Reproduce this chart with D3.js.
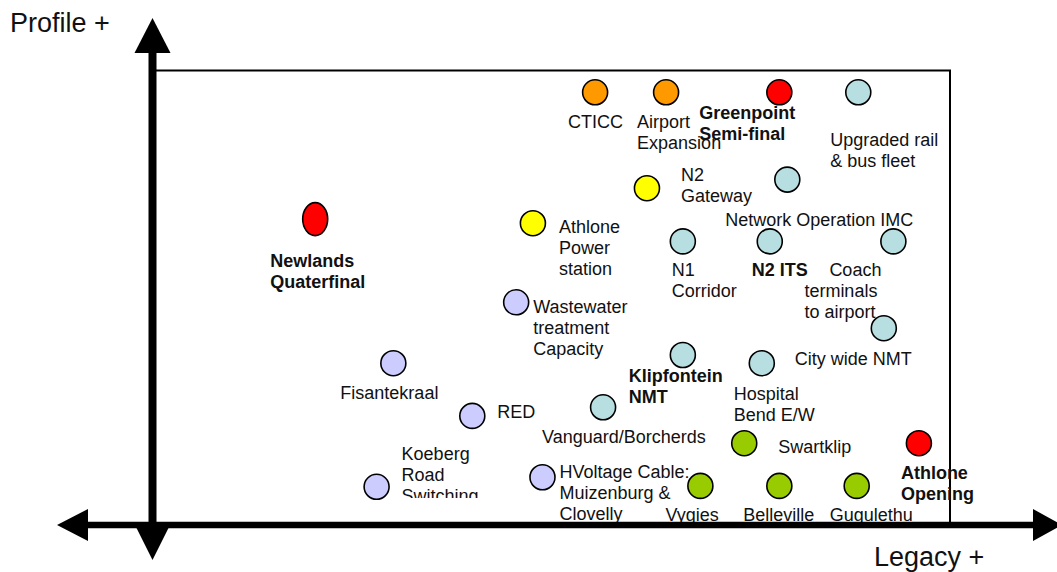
<!DOCTYPE html>
<html>
<head>
<meta charset="utf-8">
<script src="https://cdn.jsdelivr.net/npm/d3@7"></script>
<style>
  body { margin: 0; background: #fff; }
  svg { display: block; font-family: "Liberation Sans", Arial, sans-serif; }
</style>
</head>
<body>
<svg id="chart" width="1057" height="572"></svg>
<script>
// projects: legacy (x) and profile (y) on a 0..10 scale
const names = ['CTICC', 'Airport Expansion', 'Greenpoint Semi-final', 'Upgraded rail & bus fleet',
  'N2 Gateway', 'Network Operation IMC', 'Athlone Power station', 'N1 Corridor', 'N2 ITS',
  'Coach terminals to airport', 'Newlands Quaterfinal', 'Wastewater treatment Capacity',
  'City wide NMT', 'Klipfontein NMT', 'Hospital Bend E/W', 'Fisantekraal', 'RED',
  'Vanguard/Borcherds', 'Koeberg Road Switching', 'HVoltage Cable: Muizenburg & Clovelly',
  'Swartklip', 'Athlone Opening', 'Vygies', 'Belleville', 'Gugulethu'];
const legacy = [5.55, 6.44, 7.86, 8.85, 6.20, 7.96, 4.77, 6.65, 7.74, 9.29, 2.04, 4.56,
  9.17, 6.65, 7.64, 3.02, 4.01, 5.65, 2.81, 4.89, 7.42, 9.61, 6.87, 7.86, 8.83];
const profile = [9.52, 9.52, 9.52, 9.52, 7.41, 7.60, 6.64, 6.24, 6.24, 6.24, 6.73, 4.90,
  4.33, 3.74, 3.56, 3.56, 2.40, 2.59, 0.84, 1.05, 1.80, 1.80, 0.86, 0.86, 0.86];
const groups = ['event', 'event', 'stadium', 'transport', 'gateway', 'transport', 'gateway',
  'transport', 'transport', 'transport', 'stadium', 'utility', 'transport', 'transport',
  'transport', 'utility', 'utility', 'transport', 'utility', 'utility', 'facility',
  'stadium', 'facility', 'facility', 'facility'];
const colours = { event: '#FF9900', stadium: '#FF0000', gateway: '#FFFF00',
  transport: '#B7DEE0', utility: '#CCCCFF', facility: '#99CC00' };

// label layout: offset of the first baseline from the point, line breaks, per-line shift
const labels = [
  { lines: ['CTICC'], dx: -27, dy: 36 },
  { lines: ['Airport', 'Expansion'], dx: -29, dy: 36 },
  { lines: ['Greenpoint', 'Semi-final'], dx: -80, dy: 27, bold: true },
  { lines: ['Upgraded rail', '& bus fleet'], dx: -28, dy: 54 },
  { lines: ['N2', 'Gateway'], dx: 34, dy: -7 },
  { lines: ['Network Operation IMC'], dx: -62, dy: 46 },
  { lines: ['Athlone', 'Power', 'station'], dx: 26, dy: 10 },
  { lines: ['N1', 'Corridor'], dx: -11, dy: 35 },
  { lines: ['N2 ITS'], dx: -18, dy: 35, bold: true },
  { lines: ['Coach', 'terminals', 'to airport'], dx: -89, dy: 35, shift: [25, 0, 0] },
  { lines: ['Newlands', 'Quaterfinal'], dx: -45, dy: 48, bold: true },
  { lines: ['Wastewater', 'treatment', 'Capacity'], dx: 17, dy: 11 },
  { lines: ['City wide NMT'], dx: -89, dy: 37 },
  { lines: ['Klipfontein', 'NMT'], dx: -54, dy: 27, bold: true },
  { lines: ['Hospital', 'Bend E/W'], dx: -28, dy: 37 },
  { lines: ['Fisantekraal'], dx: -53, dy: 36 },
  { lines: ['RED'], dx: 25, dy: 2 },
  { lines: ['Vanguard/Borcherds'], dx: -61, dy: 36 },
  { lines: ['Koeberg', 'Road', 'Switching'], dx: 25, dy: -27, clip: true },
  { lines: ['HVoltage Cable:', 'Muizenburg &', 'Clovelly'], dx: 17, dy: 1 },
  { lines: ['Swartklip'], dx: 34, dy: 10 },
  { lines: ['Athlone', 'Opening'], dx: -18, dy: 36, bold: true },
  { lines: ['Vygies'], dx: -35, dy: 35 },
  { lines: ['Belleville'], dx: -36, dy: 35 },
  { lines: ['Gugulethu'], dx: -27, dy: 35 }
];

const data = names.map((n, i) => ({
  name: n, legacy: legacy[i], profile: profile[i], group: groups[i], label: labels[i]
}));

const svg = d3.select('#chart');

const x = d3.scaleLinear().domain([0, 10]).range([152.5, 950]);
const y = d3.scaleLinear().domain([0, 10]).range([525, 70.5]);

// frame
svg.append('rect')
  .attr('x', x(0)).attr('y', y(10))
  .attr('width', x(10) - x(0)).attr('height', y(0) - y(10))
  .attr('fill', 'none').attr('stroke', '#000').attr('stroke-width', 2);

svg.append('defs').append('clipPath').attr('id', 'cut')
  .append('rect').attr('x', 0).attr('y', 0).attr('width', 1057).attr('height', 498);

// points
const pts = svg.append('g');
pts.selectAll('ellipse')
  .data(data)
  .enter()
  .append('ellipse')
  .attr('cx', d => x(d.legacy))
  .attr('cy', d => y(d.profile))
  .attr('rx', 12.5)
  .attr('ry', d => d.name === 'Newlands Quaterfinal' ? 16.5 : 12.5)
  .attr('fill', d => colours[d.group])
  .attr('stroke', '#000')
  .attr('stroke-width', 1.6);

// labels
const lab = svg.append('g')
  .selectAll('text')
  .data(data)
  .enter()
  .append('text')
  .attr('font-size', 18)
  .attr('font-weight', d => d.label.bold ? 'bold' : 'normal')
  .attr('fill', '#111')
  .attr('clip-path', d => d.label.clip ? 'url(#cut)' : null);

lab.selectAll('tspan')
  .data(d => d.label.lines.map((t, j) => ({
    t, x: x(d.legacy) + d.label.dx + (d.label.shift ? d.label.shift[j] : 0),
    y: y(d.profile) + d.label.dy + j * 21
  })))
  .enter()
  .append('tspan')
  .attr('x', l => l.x)
  .attr('y', l => l.y)
  .text(l => l.t);

// axes with arrow heads
const ax = svg.append('g');
const x0 = x(0), y0 = y(0);
ax.append('line')
  .attr('x1', x0).attr('x2', x0).attr('y1', 50).attr('y2', 530)
  .attr('stroke', '#000').attr('stroke-width', 8);
ax.append('line')
  .attr('x1', 85).attr('x2', 1036).attr('y1', y0).attr('y2', y0)
  .attr('stroke', '#000').attr('stroke-width', 6.5);

const heads = [
  [[x0, 18], [x0 - 18, 53], [x0 + 18, 53]],
  [[x0, 560], [x0 - 16, 528], [x0 + 16, 528]],
  [[57, y0], [88, y0 - 16], [88, y0 + 16]],
  [[1062, y0], [1033, y0 - 16], [1033, y0 + 16]]
];
ax.selectAll('path')
  .data(heads)
  .enter()
  .append('path')
  .attr('d', d => d3.line()(d) + 'Z')
  .attr('fill', '#000');

// axis titles
svg.append('text')
  .attr('x', 10).attr('y', 32)
  .attr('font-size', 27)
  .attr('fill', '#111')
  .text('Profile +');

svg.append('text')
  .attr('x', 874).attr('y', 566)
  .attr('font-size', 27)
  .attr('fill', '#111')
  .text('Legacy +');
</script>
</body>
</html>
